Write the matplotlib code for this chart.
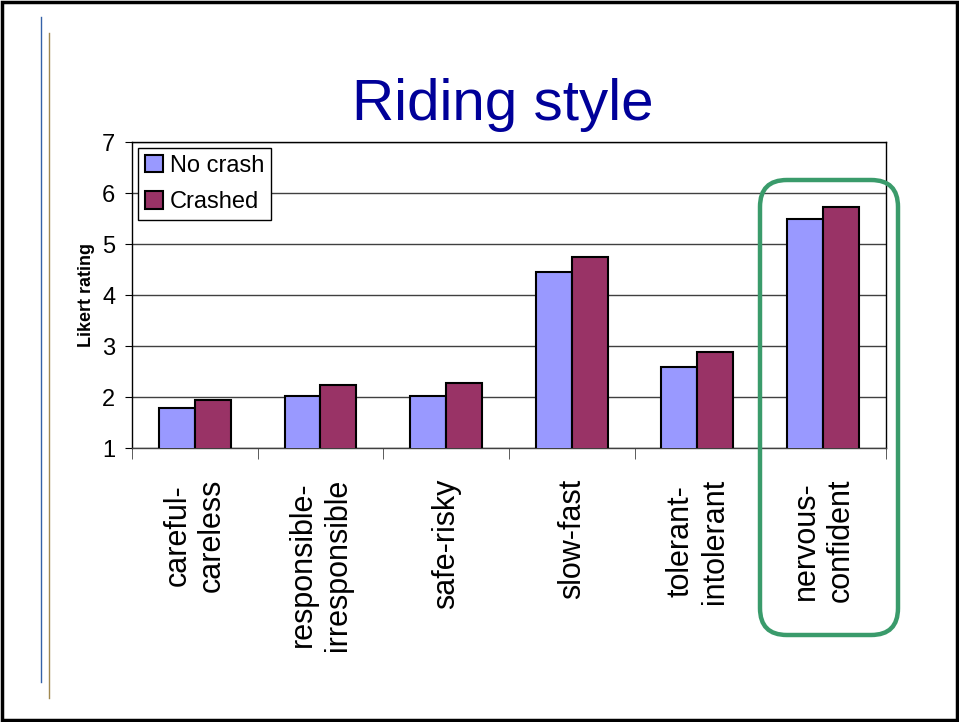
import matplotlib
matplotlib.use('Agg')

import matplotlib.pyplot as plt
import numpy as np
from matplotlib.lines import Line2D
from matplotlib.patches import FancyBboxPatch, Rectangle

plt.rcParams['font.family'] = ['Liberation Sans', 'DejaVu Sans']

categories = ['careful-\ncareless', 'responsible-\nirresponsible', 'safe-risky',
              'slow-fast', 'tolerant-\nintolerant', 'nervous-\nconfident']
no_crash = [1.79, 2.02, 2.01, 4.45, 2.59, 5.49]
crashed = [1.95, 2.24, 2.27, 4.75, 2.89, 5.73]
series_names = ['No crash', 'Crashed']
yticks = [1, 2, 3, 4, 5, 6, 7]

fig = plt.figure(figsize=(9.59, 7.22), dpi=100)
ax = fig.add_axes([0.1376, 0.3795, 0.7862, 0.4238])

x = np.arange(len(categories)) + 0.5
w = 0.286
ax.bar(x - w / 2, no_crash, w, color='#9999FF', edgecolor='black',
       linewidth=1.5, label=series_names[0], zorder=3)
ax.bar(x + w / 2, crashed, w, color='#993366', edgecolor='black',
       linewidth=1.5, label=series_names[1], zorder=3)

ax.set_xlim(0, len(categories))
ax.set_ylim(1, 7)
ax.set_yticks(yticks)
ax.tick_params(axis='y', labelsize=17, length=5, direction='out', pad=7)
ax.yaxis.grid(True, color='#404040', linewidth=1, zorder=0)

ax.set_xticks(x)
ax.set_xticklabels(categories, rotation=90, fontsize=22, va='top', ha='center',
                   multialignment='center')
ax.set_xticks(np.arange(len(categories) + 1), minor=True)
ax.tick_params(axis='x', which='major', length=0, pad=22)
ax.tick_params(axis='x', which='minor', length=8, direction='out', color='#404040')

for s in ax.spines.values():
    s.set_color('black')
    s.set_linewidth(1)
ax.spines['bottom'].set_color('#404040')

ax.set_ylabel('Likert rating', fontsize=13, fontweight='bold', labelpad=5)

leg = ax.legend(loc='upper left', fontsize=17, frameon=True, fancybox=False,
                edgecolor='black', framealpha=1, handlelength=0.75,
                handleheight=0.75, handletextpad=0.3, borderpad=0.3,
                labelspacing=0.6, borderaxespad=0.25)
leg.get_frame().set_linewidth(1)

fig.text(0.5245, 0.834, 'Riding style', fontsize=42, color='#000099',
         ha='center', va='baseline')

# highlight box around last category
fig.patches.append(FancyBboxPatch((760 / 959, 1 - 635 / 722), 138 / 959, 455 / 722,
                                  boxstyle='round,pad=0,rounding_size=0.028',
                                  transform=fig.transFigure, fill=False,
                                  edgecolor='#3A9B6B', linewidth=3.2, zorder=5,
                                  mutation_aspect=959 / 722))

# slide decorations
fig.lines.append(Line2D([41 / 959, 41 / 959], [1 - 17 / 722, 1 - 682 / 722],
                        transform=fig.transFigure, color='#3461A8', linewidth=1))
fig.lines.append(Line2D([49 / 959, 49 / 959], [1 - 33 / 722, 1 - 698 / 722],
                        transform=fig.transFigure, color='#A08850', linewidth=1))
fig.patches.append(Rectangle((0.002, 0.003), 0.996, 0.994, transform=fig.transFigure,
                             fill=False, edgecolor='black', linewidth=2.5))

fig.savefig('out.png', dpi=100)
